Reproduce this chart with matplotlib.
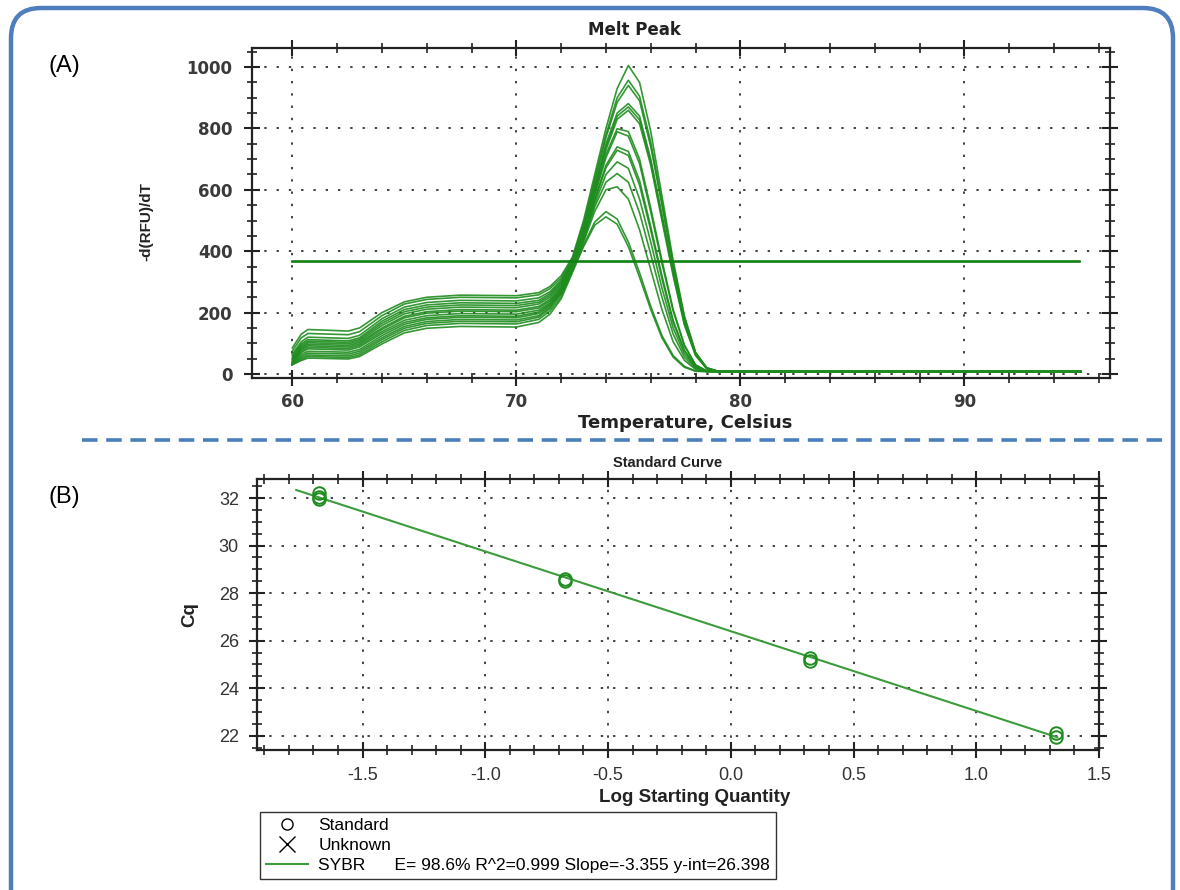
import matplotlib
matplotlib.use("Agg")
import matplotlib.pyplot as plt
from matplotlib.patches import FancyBboxPatch
from matplotlib.lines import Line2D
from matplotlib.ticker import MultipleLocator, FormatStrFormatter

plt.rcParams['font.family'] = ['Liberation Sans', 'DejaVu Sans']

# ---- (A) melt peak data ----
temps = [60.0, 60.4, 60.7, 62.5, 63.0, 64.0, 65.0, 66.0, 67.5, 70.0, 71.0, 71.5,
         72.0, 72.5, 73.0, 73.5, 74.0, 74.5, 75.0, 75.5, 76.0, 76.5, 77.0, 77.5,
         78.0, 78.5, 79.0, 95.2]

melt_curves = [
    [85, 130, 145, 140, 150, 200, 235, 250, 257, 255, 265, 285, 320, 380, 500, 650, 800, 930, 1005, 950, 790, 580, 370, 190, 70, 20, 9, 8],
    [75, 118, 132, 128, 138, 190, 228, 243, 250, 248, 258, 278, 312, 375, 490, 635, 780, 900, 957, 905, 755, 560, 360, 185, 70, 20, 9, 8],
    [65, 105, 120, 116, 126, 180, 218, 233, 240, 238, 248, 268, 305, 370, 485, 625, 770, 885, 940, 890, 740, 550, 352, 180, 68, 20, 9, 8],
    [60, 98, 112, 108, 118, 172, 210, 225, 232, 230, 240, 262, 300, 365, 478, 612, 750, 850, 881, 840, 700, 520, 335, 170, 64, 18, 8, 8],
    [55, 93, 107, 103, 113, 165, 203, 218, 225, 223, 234, 256, 295, 362, 472, 605, 740, 840, 870, 828, 690, 510, 328, 165, 62, 18, 8, 8],
    [50, 88, 102, 98, 108, 158, 196, 211, 218, 216, 228, 250, 290, 360, 468, 598, 730, 830, 859, 815, 680, 500, 320, 160, 60, 17, 8, 8],
    [48, 84, 97, 93, 103, 150, 188, 203, 210, 208, 220, 243, 284, 355, 460, 590, 715, 799, 790, 700, 540, 370, 210, 95, 30, 10, 8, 8],
    [45, 80, 92, 88, 98, 145, 183, 198, 205, 203, 215, 238, 280, 352, 455, 582, 705, 789, 775, 685, 528, 360, 205, 92, 29, 10, 8, 8],
    [42, 75, 87, 83, 93, 138, 175, 190, 197, 195, 208, 232, 275, 350, 448, 570, 680, 740, 725, 630, 480, 320, 175, 78, 25, 9, 8, 8],
    [40, 70, 82, 78, 88, 132, 168, 183, 190, 188, 202, 228, 272, 348, 445, 565, 672, 729, 712, 615, 468, 310, 168, 75, 24, 9, 8, 8],
    [38, 64, 74, 71, 80, 125, 162, 178, 185, 183, 197, 223, 268, 345, 440, 555, 650, 691, 670, 570, 430, 280, 150, 65, 21, 8, 8, 8],
    [36, 58, 68, 65, 74, 118, 155, 171, 178, 176, 190, 218, 264, 342, 435, 545, 625, 653, 625, 525, 390, 250, 130, 55, 18, 8, 8, 8],
    [34, 53, 62, 59, 68, 112, 149, 165, 172, 170, 185, 213, 260, 340, 430, 530, 600, 610, 570, 470, 340, 210, 105, 45, 15, 8, 8, 8],
    [32, 48, 57, 54, 62, 105, 142, 158, 165, 163, 178, 205, 252, 335, 420, 495, 529, 505, 430, 330, 220, 125, 60, 25, 10, 8, 8, 8],
    [30, 44, 52, 49, 57, 98, 134, 149, 155, 153, 168, 195, 245, 330, 415, 485, 512, 488, 415, 315, 210, 118, 55, 22, 9, 8, 8, 8],
]

threshold = 368
threshold_range = [60.0, 95.1]

# ---- (B) standard curve data ----
log_qty = [-1.677, -1.677, -1.677, -0.677, -0.677, 0.323, 0.323, 1.323, 1.323]
cq_vals = [32.22, 32.05, 31.97, 28.50, 28.60, 25.25, 25.15, 22.10, 21.95]
fit_slope = -3.355
fit_intercept = 26.398
fit_range = [-1.77, 1.33]
legend_labels = ['Standard', 'Unknown',
                 'SYBR      E= 98.6% R^2=0.999 Slope=-3.355 y-int=26.398']

W, H = 1180, 890
fig = plt.figure(figsize=(W / 100, H / 100), dpi=100)

green = '#1e8c1e'
dark = '#222222'


def style_axes(ax):
    for s in ax.spines.values():
        s.set_color(dark)
        s.set_linewidth(1.6)
    ax.tick_params(which='both', direction='inout', top=True, right=True, colors=dark)
    ax.tick_params(which='major', length=12, width=1.5)
    ax.tick_params(which='minor', length=7, width=1.2)
    ax.grid(True, which='major', color='#333333', linestyle=(0, (1.3, 5.5)), linewidth=1.3)


# (A) melt peak
ax1 = fig.add_axes([252 / W, 1 - 378 / H, (1110 - 252) / W, (378 - 48) / H])
for curve in melt_curves:
    ax1.plot(temps, curve, color=green, lw=1.2, alpha=0.9)
ax1.plot(threshold_range, [threshold, threshold], color='#0f800f', lw=1.9)
ax1.set_xlim(58.2, 96.5)
ax1.set_ylim(-13, 1062)
ax1.xaxis.set_major_locator(MultipleLocator(10))
ax1.xaxis.set_minor_locator(MultipleLocator(2))
ax1.yaxis.set_major_locator(MultipleLocator(200))
ax1.yaxis.set_minor_locator(MultipleLocator(50))
style_axes(ax1)
ax1.tick_params(axis='y', pad=8)
ax1.tick_params(axis='x', pad=5)
for lab in ax1.get_xticklabels() + ax1.get_yticklabels():
    lab.set_family('DejaVu Sans')
    lab.set_fontweight('bold')
    lab.set_fontsize(12)
    lab.set_color('#3a3a3a')

fig.text(634 / W, 1 - 30 / H, 'Melt Peak', ha='center', va='center',
         fontsize=12, fontweight='bold', color=dark, family='DejaVu Sans')
fig.text(685 / W, 1 - 423 / H, 'Temperature, Celsius', ha='center', va='center',
         fontsize=13, fontweight='bold', color=dark, family='DejaVu Sans')
fig.text(146 / W, 1 - 222 / H, '-d(RFU)/dT', ha='center', va='center', rotation=90,
         fontsize=11, fontweight='bold', color=dark)

# (B) standard curve
ax2 = fig.add_axes([257 / W, 1 - 750 / H, (1099 - 257) / W, (750 - 479) / H])
fit_y = [fit_slope * x + fit_intercept for x in fit_range]
ax2.plot(fit_range, fit_y, color='#3c9c3c', lw=1.5)
ax2.plot(log_qty, cq_vals, linestyle='none', marker='o', markersize=9,
         markerfacecolor='none', markeredgecolor=green, markeredgewidth=1.4)
ax2.set_xlim(-1.93, 1.5)
ax2.set_ylim(21.4, 32.8)
ax2.xaxis.set_major_locator(MultipleLocator(0.5))
ax2.xaxis.set_minor_locator(MultipleLocator(0.1))
ax2.xaxis.set_major_formatter(FormatStrFormatter('%.1f'))
ax2.yaxis.set_major_locator(MultipleLocator(2))
ax2.yaxis.set_minor_locator(MultipleLocator(0.5))
style_axes(ax2)
ax2.tick_params(axis='both', labelsize=13, labelcolor='#333333')
ax2.tick_params(axis='y', pad=7)
ax2.tick_params(axis='x', pad=6)

fig.text(668 / W, 1 - 463 / H, 'Standard Curve', ha='center', va='center',
         fontsize=10.5, fontweight='bold', color=dark)
fig.text(695 / W, 1 - 797 / H, 'Log Starting Quantity', ha='center', va='center',
         fontsize=13.5, fontweight='bold', color=dark)
fig.text(190 / W, 1 - 615 / H, 'Cq', ha='center', va='center', rotation=90,
         fontsize=13.5, fontweight='bold', color=dark)

handles = [
    Line2D([], [], linestyle='none', marker='o', markersize=8, markerfacecolor='none',
           markeredgecolor='black', markeredgewidth=1.0),
    Line2D([], [], linestyle='none', marker='x', markersize=11, color='black',
           markeredgewidth=1.0),
    Line2D([], [], color='#3c9c3c', lw=1.5),
]
leg = fig.legend(handles, legend_labels, loc='upper left',
                 bbox_to_anchor=(260 / W, 1 - 812 / H), fontsize=12.5,
                 frameon=True, fancybox=False, borderpad=0.35, labelspacing=0.28,
                 handlelength=2.4, handletextpad=0.6, borderaxespad=0)
leg.get_frame().set_edgecolor('black')
leg.get_frame().set_linewidth(1.0)

# panel labels
fig.text(48 / W, 1 - 66 / H, '(A)', ha='left', va='center', fontsize=17)
fig.text(48 / W, 1 - 497 / H, '(B)', ha='left', va='center', fontsize=17)

# separator and rounded frame
fig.add_artist(Line2D([82 / W, 1170 / W], [1 - 440 / H, 1 - 440 / H],
                      transform=fig.transFigure, color='#4a7ebb', lw=2.6,
                      linestyle=(0, (4.3, 2.4))))
frame = FancyBboxPatch((0.11, -0.5), 11.62, 9.32,
                       boxstyle='round,pad=0,rounding_size=0.3',
                       transform=fig.dpi_scale_trans, fill=False,
                       edgecolor='#4f7dbe', lw=3.2)
fig.add_artist(frame)

fig.savefig('out.png', dpi=100)
